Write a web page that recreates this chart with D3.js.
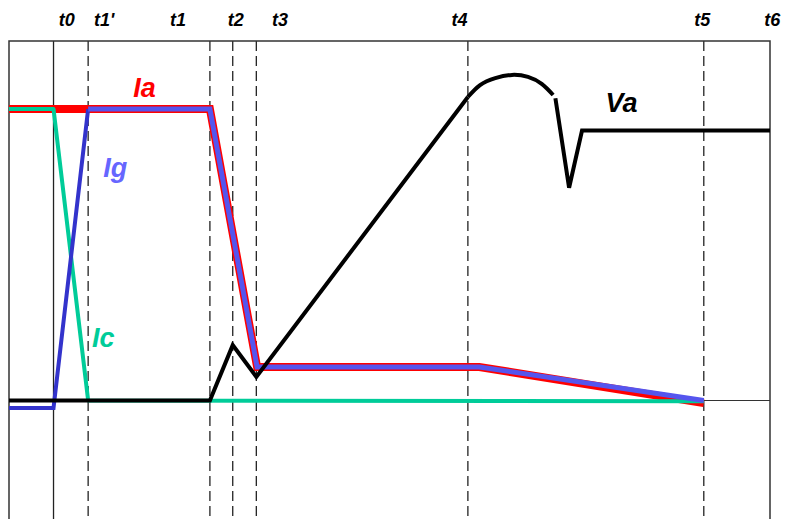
<!DOCTYPE html>
<html lang="en">
<head>
    <meta charset="UTF-8">
    <title>Switching waveforms</title>
    <script src="https://cdn.jsdelivr.net/npm/d3@7"></script>
    <style>
        body { margin: 0; background: #fff; }
        text { font-family: "Liberation Sans", Arial, sans-serif; font-weight: bold; font-style: italic; }
    </style>
</head>
<body>
    <svg width="786" height="519"></svg>
    <script>
        // time markers (arbitrary time units, 0..100 across the frame)
        const markerNames = ["t0", "t1'", "t1", "t2", "t3", "t4", "t5", "t6"];
        const markerTimes = [5.85, 10.4, 26.4, 29.4, 32.5, 60.3, 91.3, 100];
        const markerLabelX = [7.6, 12.5, 22.2, 29.8, 35.6, 59.2, 91.1, 100.3];

        // waveforms, [time, per-unit value]
        const ia = [[0, 1.0], [26.4, 1.0], [32.6, 0.115], [61.8, 0.115], [91.3, -0.009]];
        const ig = [[0, -0.026], [5.85, -0.026], [10.4, 1.0], [26.4, 1.0], [32.6, 0.115], [61.8, 0.115], [91.3, 0.0]];
        const ic = [[0, 1.0], [5.85, 1.0], [10.4, 0.0], [91.3, -0.003]];
        const vaRise = [[0, 0], [26.4, 0], [29.4, 0.19], [32.5, 0.081], [60.3, 1.041]];
        const vaArc = [[60.3, 1.041], [61.9, 1.082], [63.9, 1.106], [66.1, 1.117], [68.2, 1.11], [70.0, 1.086], [71.5, 1.048]];
        const vaTail = [[71.8, 1.037], [73.6, 0.73], [75.3, 0.926], [100, 0.926]];

        const labels = [
            { text: "Ia", t: 17.8, v: 1.04, color: "#ff0000", anchor: "middle" },
            { text: "Ig", t: 12.4, v: 0.768, color: "#6666ff", anchor: "start" },
            { text: "Ic", t: 10.9, v: 0.184, color: "#00cc99", anchor: "start" },
            { text: "Va", t: 78.4, v: 0.989, color: "#000000", anchor: "start" }
        ];

        const svg = d3.select("svg");
        const frameLeft = 9, frameRight = 770, frameTop = 41;

        const x = d3.scaleLinear().domain([0, 100]).range([frameLeft, frameRight]);
        const y = d3.scaleLinear().domain([0, 1]).range([400.5, 109]);

        const line = d3.line().x(d => x(d[0])).y(d => y(d[1]));

        // zero axis
        svg.append("line")
            .attr("x1", x(0)).attr("x2", x(100))
            .attr("y1", y(0)).attr("y2", y(0))
            .attr("stroke", "#333").attr("stroke-width", 1.2);

        // marker lines
        svg.selectAll(".marker")
            .data(markerTimes.slice(0, 7))
            .enter()
            .append("line")
            .attr("x1", d => x(d)).attr("x2", d => x(d))
            .attr("y1", frameTop).attr("y2", 519)
            .attr("stroke", "#222")
            .attr("stroke-width", 1.3)
            .attr("stroke-dasharray", (d, i) => i === 0 ? null : "10,5");

        // frame (left, top, right)
        svg.append("path")
            .attr("d", `M${frameLeft},519V${frameTop}H${frameRight}V519`)
            .attr("fill", "none")
            .attr("stroke", "#333")
            .attr("stroke-width", 1.5);

        // marker labels
        svg.selectAll(".tlabel")
            .data(markerNames)
            .enter()
            .append("text")
            .attr("x", (d, i) => x(markerLabelX[i]))
            .attr("y", 26)
            .attr("text-anchor", "middle")
            .attr("font-size", 18)
            .text(d => d);

        // Ia
        svg.append("path").attr("d", line(ia))
            .attr("fill", "none").attr("stroke", "#ff0000")
            .attr("stroke-width", 8).attr("stroke-linejoin", "miter");

        // Ic
        svg.append("path").attr("d", line(ic))
            .attr("fill", "none").attr("stroke", "#00cc99")
            .attr("stroke-width", 4).attr("stroke-linejoin", "round");

        // Ig: rising part darker, conduction part lighter
        svg.append("path").attr("d", line(ig.slice(0, 3)))
            .attr("fill", "none").attr("stroke", "#3333cc")
            .attr("stroke-width", 4);
        svg.append("path").attr("d", line(ig.slice(2)))
            .attr("fill", "none").attr("stroke", "#5555ee")
            .attr("stroke-width", 5);

        // Va
        svg.append("path").attr("d", line(vaRise))
            .attr("fill", "none").attr("stroke", "#000")
            .attr("stroke-width", 4).attr("stroke-linejoin", "miter");
        svg.append("path").attr("d", line.curve(d3.curveNatural)(vaArc))
            .attr("fill", "none").attr("stroke", "#000")
            .attr("stroke-width", 4);
        line.curve(d3.curveLinear);
        svg.append("path").attr("d", line(vaTail))
            .attr("fill", "none").attr("stroke", "#000")
            .attr("stroke-width", 4).attr("stroke-linejoin", "miter");

        // series labels
        svg.selectAll(".slabel")
            .data(labels)
            .enter()
            .append("text")
            .attr("x", d => x(d.t))
            .attr("y", d => y(d.v))
            .attr("text-anchor", d => d.anchor)
            .attr("font-size", 27)
            .attr("fill", d => d.color)
            .text(d => d.text);
    </script>
</body>
</html>
